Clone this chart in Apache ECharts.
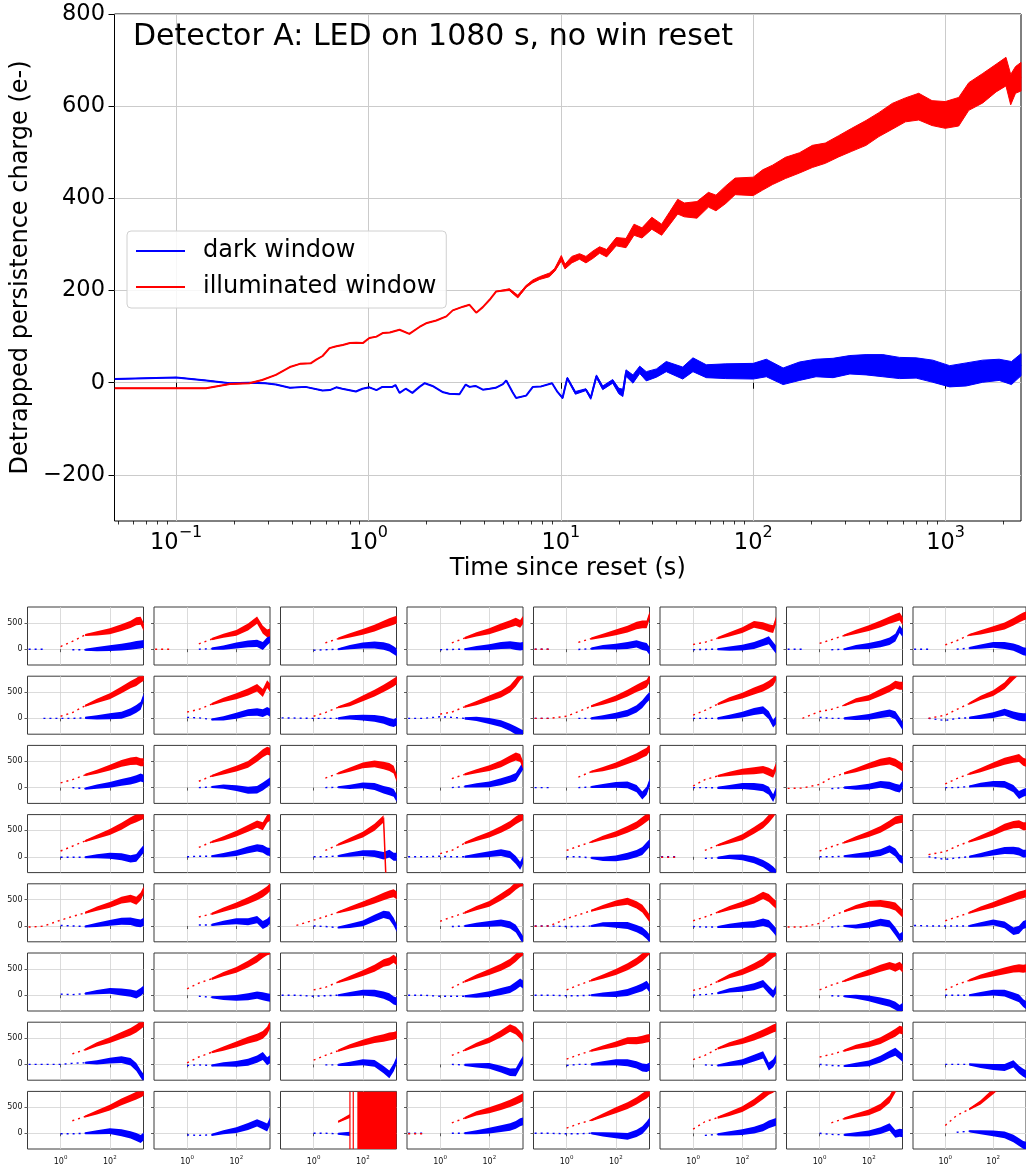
<!DOCTYPE html>
<html>
<head>
<meta charset="utf-8">
<script src="https://cdn.jsdelivr.net/npm/echarts@6/dist/echarts.min.js"></script>
<style>
  html, body { margin: 0; padding: 0; background: #fff; }
  #chart { width: 1026px; height: 1166px; }
</style>
</head>
<body>
<div id="chart"></div>
<script>
// ---------- Main panel: detrapped charge vs. time since reset ----------
const mainRedTime = [0.048,0.1,0.143,0.19,0.24,0.28,0.33,0.39,0.44,0.5,0.535,0.577,0.627,0.68,0.735,0.8,0.863,0.934,1.01,1.1,1.19,1.29,1.45,1.63,1.84,1.99,2.25,2.54,2.74,3.1,3.35,3.63,3.93,4.26,4.61,
  5.4,5.97,6.6,7.15,7.75,8.72,9.3,10.05,10.5,11.4,12.5,13.5,14.7,15.9,17.3,19.4,21.8,24,26.4,29.7,33.4,36.8,40.5,43.8,51,58.5,64,72,80.5,100,112,126,147,174,203,237,278,325,386,450,528,618,725,850,996,1170,1320,1560,1830,2060,2180,2310,2466];
const mainRedCharge = [-12,-12,-12,-3,-1,6,17,34,41,42,50,58,75,79,82,86,87,86,97,100,108,109,115,106,121,129,135,144,157,165,169,152,164,180,198,
  202,187,209,220,227,234,245,270,252,267,274,267,278,288,281,306,303,332,325,346,332,357,382,375,375,397,390,408,426,426,440,451,466,477,491,498,513,527,542,560,578,592,599,585,581,588,621,639,661,675,636,657,664];
// half-width of the read-noise band around the illuminated trace
const mainRedNoise = [0,0,0,0,0,0,0,0,0,0,0,0,0,0,0,0,0,0,0,0,0,0,0,0,0,0,0,0,0,0,0,0,0,0,0,
  2,3,2,3,3,4,3,6,5,7,6,7,8,7,8,9,10,12,11,13,12,14,16,15,18,16,17,19,18,20,22,21,23,22,24,22,23,25,27,26,28,26,29,27,29,31,30,32,30,31,33,29,31];

const mainBlueTime = [0.048,0.1,0.143,0.19,0.24,0.29,0.33,0.39,0.47,0.577,0.63,0.68,0.73,0.86,0.93,1.01,1.1,1.18,1.33,1.38,1.45,1.56,1.69,1.84,1.96,2.15,2.42,2.63,2.97,3.2,3.35,3.6,3.93,4.26,4.58,5.0,5.2,5.6,5.85,6.6,7.15,7.9,9.0,9.6,10.2,10.8,11.9,13.5,14.3,15.3,16.5,18.6,20,21,21.8,23.7,25.7,27.8,31.4,35.3,43,48.6,57,72,100,117,143,174,212,260,318,386,472,576,703,858,1050,1280,1560,1900,2200,2466];
const mainBlueCharge = [8,11.5,5,-1,0,-1,-4,-11,-9,-17,-16,-10,-13,-19,-13,-10,-16,-9,-9,-5,-22,-13,-22,-9,-1,-7,-20,-24,-25,-4,-9,-7,-15,-13,-11,-3,5,-20,-33,-28,-9,-8,-1,-20,-33,10,-22,-15,-33,14,-11,3,-18,-22,21,8,28,14,21,35,21,39,25,25,25,32,14,25,32,32,39,39,37,32,32,25,14,18,25,28,21,39];
const mainBlueNoise = [0,0,0,0,0,0,0,0,0,0,0,0,0,0,0,0,0,0,0,0,0,0,0,0,0,0,0,0,0,0,0,0,0,0,0,0,0,0,0,0,0,0,0,0,2,2,3,2,3,3,4,4,6,8,7,9,8,10,9,11,13,15,14,16,17,19,18,20,19,21,20,22,24,23,22,24,23,25,24,23,25,24];

const mainTicksX = [0.1, 1, 10, 100, 1000];
const mainMinorTicksX = [0.05,0.06,0.07,0.08,0.09,0.2,0.3,0.4,0.5,0.6,0.7,0.8,0.9,2,3,4,5,6,7,8,9,20,30,40,50,60,70,80,90,200,300,400,500,600,700,800,900,2000];
const mainTicksY = [-200, 0, 200, 400, 600, 800];

// ---------- 8x8 grid of per-window traces ----------
// sample times shared by every small panel
const panelTime = [0.05, 0.2, 1, 3, 10, 30, 100, 300, 700, 1200, 1800, 2400];
// half-width of the noise band at each sample time
const panelNoise = [0, 0, 0, 0, 20, 40, 55, 65, 70, 75, 75, 75];
const panelTicksX = [1, 100];
const panelTicksY = [0, 500];

const illum1 = [
  [null,null,50,150,270,300,340,410,470,530,540,420],
  [0,0,null,100,190,255,310,420,550,370,300,320],
  [null,null,null,120,200,260,330,400,470,510,540,560],
  [null,20,null,120,210,280,340,420,480,520,480,560],
  [0,0,null,130,200,255,320,380,450,470,470,650],
  [null,null,90,130,210,280,360,470,440,400,380,560],
  [null,null,110,180,260,330,400,480,550,590,620,530],
  [null,null,80,160,270,320,380,440,520,580,620,640]
];
const dark1 = [
  [0,0,null,-10,-10,0,20,40,60,80,90,100],
  [null,null,null,0,10,30,70,100,110,60,150,200],
  [null,null,-20,-10,0,40,70,80,60,30,-20,-60],
  [null,null,-10,-5,0,20,40,70,80,60,50,60],
  [0,0,null,-5,10,40,50,70,100,60,40,-40],
  [null,null,-10,-5,0,10,30,70,130,170,60,-10],
  [0,0,null,-10,0,40,60,100,150,220,380,300],
  [0,0,null,0,20,50,80,70,40,0,-40,-50]
];
const illum2 = [
  [null,null,40,110,240,330,420,540,640,690,750,790],
  [null,null,120,170,270,350,420,500,580,480,650,580],
  [null,null,40,110,210,270,380,480,570,630,680,720],
  [null,null,80,120,220,290,380,460,560,680,800,850],
  [0,0,40,130,230,300,380,480,570,620,660,760],
  [null,null,60,150,270,360,430,520,580,640,700,800],
  [null,0,130,170,250,340,390,490,570,640,620,620],
  [null,0,60,170,280,390,480,620,800,900,1000,1000]
];
const dark2 = [
  [null,0,0,0,10,20,40,60,120,180,240,400],
  [null,null,20,10,-20,0,50,110,120,100,140,110],
  [10,5,0,0,0,20,15,0,-30,-70,-90,-60],
  [0,0,30,20,0,-10,-50,-100,-170,-230,-270,-300],
  [0,0,null,0,0,20,50,100,180,270,370,430],
  [null,null,0,0,0,30,70,130,160,60,-100,-30],
  [null,null,20,0,0,10,30,70,100,60,-60,-150],
  [null,0,-40,0,10,30,60,120,60,30,20,20]
];
const illum3 = [
  [null,null,90,150,240,300,380,460,500,510,480,480],
  [null,null,null,120,220,290,360,440,560,650,700,680],
  [null,null,null,180,270,340,420,450,420,390,340,180],
  [null,null,null,170,250,310,370,450,540,590,560,420],
  [null,null,null,200,300,350,420,510,580,640,680,760],
  [null,null,30,150,220,260,300,320,340,300,260,400],
  [-15,-10,60,190,270,330,410,480,510,470,420,380],
  [0,null,70,170,260,330,420,500,540,560,490,470]
];
const dark3 = [
  [null,null,null,0,-20,20,50,100,130,160,190,170],
  [null,null,null,0,10,20,-10,-50,-40,20,80,120],
  [null,null,null,0,5,15,40,20,-40,-70,-100,-200],
  [null,null,null,0,20,40,60,110,160,200,330,420],
  [0,0,null,0,10,30,50,50,-20,-150,-60,100],
  [null,null,0,0,-5,10,30,20,0,-60,-200,-60],
  [null,null,null,-20,0,0,20,60,40,0,-20,60],
  [0,null,0,0,20,50,70,60,-20,-140,-100,-80]
];
const illum4 = [
  [null,null,110,200,300,380,470,580,680,730,770,790],
  [null,null,null,180,280,350,440,540,620,580,720,760],
  [null,null,null,120,230,320,420,560,720,-2000,null,null],
  [null,null,60,120,260,340,420,520,610,690,740,770],
  [null,null,120,200,280,360,430,520,600,680,740,780],
  [-10,-10,null,120,220,290,370,500,610,720,820,900],
  [null,null,110,190,270,350,430,520,620,690,710,720],
  [null,40,100,200,290,370,460,560,610,620,580,580]
];
const dark4 = [
  [null,null,-10,-10,-10,10,20,0,-40,-20,80,150],
  [null,null,0,10,10,30,70,130,170,150,100,90],
  [null,null,0,0,15,40,70,60,20,60,0,0],
  [0,0,10,0,0,20,50,80,40,-60,-170,-50],
  [null,null,0,0,-20,-40,-30,10,60,110,200,260],
  [0,0,null,-30,-20,0,-10,-60,-130,-200,-260,-320],
  [null,null,0,0,10,20,40,80,150,80,-30,-60],
  [null,0,-50,-20,0,30,80,120,120,100,60,60]
];
const illum5 = [
  [-20,-5,110,180,250,330,400,490,520,480,560,680],
  [null,null,null,170,230,310,390,480,560,620,680,740],
  [null,10,110,180,260,330,410,490,560,600,620,580],
  [null,null,90,170,250,340,420,550,660,760,820,830],
  [-5,0,140,210,290,360,430,470,400,330,220,140],
  [null,null,100,170,260,340,410,490,580,530,450,400],
  [-20,-20,50,180,280,360,420,430,400,370,290,230],
  [-20,null,100,170,250,330,400,480,540,580,600,620]
];
const dark5 = [
  [null,null,10,0,-10,20,60,90,90,60,50,80],
  [null,null,null,20,20,60,90,80,120,20,60,120],
  [null,null,0,-10,-30,0,50,150,220,200,80,-40],
  [null,null,null,-10,0,20,40,60,20,-50,-180,-270],
  [0,0,-10,-10,0,30,20,10,-50,-100,-170,-240],
  [null,null,-10,-20,-20,0,20,30,70,40,-50,-120],
  [null,null,null,-20,0,-10,20,70,40,-100,-220,-180],
  [10,0,0,0,0,30,70,20,-100,-70,20,40]
];
const illum6 = [
  [null,null,null,null,null,null,null,null,null,null,null,null],
  [null,null,120,230,310,400,480,590,690,780,830,850],
  [null,null,100,150,250,330,420,510,610,640,690,640],
  [null,0,null,140,260,350,440,530,620,710,790,830],
  [null,null,100,190,280,350,440,540,640,720,800,850],
  [null,null,90,150,260,360,440,540,630,720,790,820],
  [-25,null,100,190,270,350,430,510,560,520,560,500],
  [null,null,100,200,280,350,410,460,500,510,500,510]
];
const dark6 = [
  [null,null,20,10,30,60,80,60,40,10,60,110],
  [null,null,null,-20,-40,-50,-50,-30,0,-20,-40,-50],
  [0,0,-20,-10,0,20,50,40,0,-40,-100,-120],
  [0,0,-20,-20,-20,-10,20,70,110,180,240,200],
  [0,0,-10,-10,0,10,20,50,110,150,200,120],
  [null,null,0,10,40,90,120,160,220,100,20,120],
  [null,null,null,-10,-20,-30,-60,-110,-150,-200,-260,-220],
  [null,null,0,0,0,20,50,40,-20,-60,-150,-190]
];
const illum7 = [
  [null,null,null,200,280,380,460,550,620,680,740,790],
  [null,null,30,140,230,300,380,460,510,560,640,760],
  [null,null,80,170,260,340,410,470,500,530,540,560],
  [null,null,null,170,270,370,460,580,690,640,560,480],
  [null,null,100,180,260,320,380,450,450,470,490,500],
  [null,null,90,170,300,380,440,520,590,640,680,700],
  [null,null,140,190,260,330,380,450,540,600,660,640],
  [null,null,null,null,null,null,null,null,null,null,null,null]
];
const dark7 = [
  [0,0,0,20,30,40,70,90,50,-50,-180,-260],
  [null,null,-20,-10,-20,0,10,40,100,160,60,100],
  [null,null,null,-10,-10,10,40,20,-100,-190,-60,80],
  [null,null,null,0,-10,-20,-30,-90,-150,-150,0,90],
  [null,null,-20,0,0,20,40,30,-10,-60,-70,-40],
  [0,null,null,-10,-20,10,40,120,180,-40,20,120],
  [null,null,0,-20,-30,-10,20,100,190,240,170,120],
  [null,null,0,0,0,-30,-50,-60,10,-100,-160,-190]
];
const illum8 = [
  [null,null,null,240,320,400,490,600,670,720,760,790],
  [null,null,null,null,null,null,null,null,null,null,null,null],
  [null,null,null,null,220,330,null,null,null,null,null,null],
  [-10,-10,null,200,290,380,440,510,570,620,660,690],
  [null,null,100,180,250,340,440,530,620,690,740,790],
  [null,null,80,220,300,370,460,590,720,810,850,900],
  [-15,null,null,200,280,340,400,500,650,850,950,1000],
  [null,null,150,340,460,590,800,1000,1100,1100,1100,1100]
];
const dark8 = [
  [null,null,-10,-10,0,20,40,10,-30,-70,-110,-60],
  [null,null,-30,-40,-30,20,60,130,200,150,110,240],
  [null,null,0,0,-10,-10,null,null,null,null,null,null],
  [0,0,null,0,0,20,50,90,120,160,210,230],
  [0,0,-10,-10,0,-20,-40,-60,0,60,150,230],
  [null,null,null,-40,-20,0,20,60,110,170,200,220],
  [0,null,0,-20,-30,-20,0,50,120,-10,10,0],
  [null,null,null,20,40,20,0,-30,-100,-170,-220,-240]
];
// one illuminated window saturates: rail-to-rail swings after this time
const saturatedRow = 7, saturatedCol = 2;
const saturatedSpikes = [30, 41];
const saturatedFrom = 60;

// ---------- styling ----------
const FONT = 'DejaVu Sans';
const RED = '#ff0000', BLUE = '#0000ff';
const GRID_GRAY = '#cbcbcb';
const MAIN_X = [0.0478, 2466];
const PANEL_X = [0.045, 2350];
const Y_RANGE = [-300, 800];

const illumRows = [illum1, illum2, illum3, illum4, illum5, illum6, illum7, illum8];
const darkRows = [dark1, dark2, dark3, dark4, dark5, dark6, dark7, dark8];

const minus = v => (v < 0 ? '\u2212' + (-v) : String(v));
const powLabel = v => {
  const e = Math.round(Math.log10(v));
  return '{b|10}{s|' + minus(e) + '}';
};

// filled band between value-noise and value+noise, drawn through the axes
function bandRenderer(times, values, noise, color) {
  return function (params, api) {
    const up = [], dn = [];
    for (let i = 0; i < times.length; i++) {
      up.push(api.coord([times[i], values[i] + noise[i]]));
      dn.push(api.coord([times[i], values[i] - noise[i]]));
    }
    return {
      type: 'polygon',
      shape: { points: up.concat(dn.reverse()) },
      style: { fill: color, stroke: color, lineWidth: 1 }
    };
  };
}

// runs of consecutive non-null samples inside [from, to]
function runs(vals, from, to) {
  const out = [];
  let cur = [];
  for (let i = from; i <= to; i++) {
    if (vals[i] == null) { if (cur.length > 1) out.push(cur); cur = []; }
    else cur.push(i);
  }
  if (cur.length > 1) out.push(cur);
  return out;
}

const SPLIT = 4; // samples up to 10 s are sparse
function panelRenderer(red, blue, saturated) {
  return function (params, api) {
    const children = [];
    [[blue, BLUE], [red, RED]].forEach(([vals, color]) => {
      runs(vals, 0, SPLIT).forEach(seg => {
        children.push({
          type: 'polyline',
          shape: { points: seg.map(i => api.coord([panelTime[i], vals[i]])) },
          style: { stroke: color, lineWidth: 1.4, lineDash: [2, 4], fill: null }
        });
      });
      runs(vals, SPLIT, panelTime.length - 1).forEach(seg => {
        const up = seg.map(i => api.coord([panelTime[i], vals[i] + panelNoise[i]]));
        const dn = seg.map(i => api.coord([panelTime[i], vals[i] - panelNoise[i]])).reverse();
        children.push({
          type: 'polygon',
          shape: { points: up.concat(dn) },
          style: { fill: color }
        });
        children.push({
          type: 'polyline',
          shape: { points: seg.map(i => api.coord([panelTime[i], vals[i]])) },
          style: { stroke: color, lineWidth: 1.5, fill: null }
        });
      });
    });
    if (saturated) {
      saturatedSpikes.forEach(t => {
        const a = api.coord([t, Y_RANGE[1]]), b = api.coord([t, Y_RANGE[0]]);
        children.push({ type: 'line', shape: { x1: a[0], y1: a[1], x2: b[0], y2: b[1] },
                        style: { stroke: RED, lineWidth: 1.2 } });
      });
      const p0 = api.coord([saturatedFrom, Y_RANGE[1]]);
      const p1 = api.coord([PANEL_X[1], Y_RANGE[0]]);
      children.push({ type: 'rect', shape: { x: p0[0], y: p0[1], width: p1[0] - p0[0], height: p1[1] - p0[1] },
                      style: { fill: RED } });
    }
    return { type: 'group', children };
  };
}

const grids = [{ left: 114.5, top: 14, width: 906.5, height: 507, show: true, borderColor: '#000', borderWidth: 1 }];
const xAxes = [
  {
    type: 'log', logBase: 10, gridIndex: 0, min: MAIN_X[0], max: MAIN_X[1],
    name: 'Time since reset (s)', nameLocation: 'middle', nameGap: 36,
    nameTextStyle: { fontFamily: FONT, fontSize: 24, color: '#000' },
    axisLine: { show: false },
    axisTick: { show: true, customValues: mainTicksX, length: 6, lineStyle: { color: '#000', width: 1 } },
    axisLabel: {
      customValues: mainTicksX, formatter: powLabel, margin: 4,
      rich: {
        b: { fontFamily: FONT, fontSize: 22.5, color: '#000', lineHeight: 30, verticalAlign: 'bottom' },
        s: { fontFamily: FONT, fontSize: 16, color: '#000', lineHeight: 18, verticalAlign: 'top' }
      }
    },
    splitLine: { show: true, lineStyle: { color: GRID_GRAY, width: 1 } }
  },
  {
    type: 'log', logBase: 10, gridIndex: 0, min: MAIN_X[0], max: MAIN_X[1], position: 'bottom',
    axisLine: { show: false }, axisLabel: { show: false }, splitLine: { show: false },
    axisTick: { show: true, customValues: mainMinorTicksX, length: 3.5, lineStyle: { color: '#000', width: 0.8 } }
  }
];
const yAxes = [{
  type: 'value', gridIndex: 0, min: Y_RANGE[0], max: Y_RANGE[1],
  name: 'Detrapped persistence charge (e-)', nameLocation: 'middle', nameGap: 79, nameRotate: 90,
  nameTextStyle: { fontFamily: FONT, fontSize: 24, color: '#000' },
  axisLine: { show: false },
  axisTick: { show: true, customValues: mainTicksY, length: 6, lineStyle: { color: '#000', width: 1 } },
  axisLabel: { customValues: mainTicksY, formatter: minus, margin: 9.5, fontFamily: FONT, fontSize: 22.5, color: '#000' },
  splitLine: { show: true, lineStyle: { color: GRID_GRAY, width: 1 } }
}];

const series = [
  { type: 'custom', name: 'dark noise', xAxisIndex: 0, yAxisIndex: 0, data: [[1, 0]], clip: true, silent: true,
    renderItem: bandRenderer(mainBlueTime, mainBlueCharge, mainBlueNoise, BLUE) },
  { type: 'line', name: 'dark window', xAxisIndex: 0, yAxisIndex: 0, showSymbol: false, silent: true,
    data: mainBlueTime.map((t, i) => [t, mainBlueCharge[i]]),
    lineStyle: { color: BLUE, width: 2 }, itemStyle: { color: BLUE } },
  { type: 'custom', name: 'illuminated noise', xAxisIndex: 0, yAxisIndex: 0, data: [[1, 0]], clip: true, silent: true,
    renderItem: bandRenderer(mainRedTime, mainRedCharge, mainRedNoise, RED) },
  { type: 'line', name: 'illuminated window', xAxisIndex: 0, yAxisIndex: 0, showSymbol: false, silent: true,
    data: mainRedTime.map((t, i) => [t, mainRedCharge[i]]),
    lineStyle: { color: RED, width: 2 }, itemStyle: { color: RED } }
];

for (let r = 0; r < 8; r++) {
  for (let c = 0; c < 8; c++) {
    const p = r * 8 + c;
    grids.push({ left: 27.5 + 126.5 * c, top: 607 + 69.2 * r, width: 116, height: 58,
                 show: true, borderColor: '#3a3a3a', borderWidth: 1 });
    xAxes.push({
      type: 'log', logBase: 10, gridIndex: p + 1, min: PANEL_X[0], max: PANEL_X[1],
      axisLine: { show: false },
      axisTick: { show: true, customValues: panelTicksX, length: 3, lineStyle: { color: '#333', width: 0.8 } },
      axisLabel: {
        show: r === 7, customValues: panelTicksX, formatter: powLabel, margin: 6,
        rich: {
          b: { fontFamily: FONT, fontSize: 8, color: '#111', lineHeight: 11, verticalAlign: 'bottom' },
          s: { fontFamily: FONT, fontSize: 5.5, color: '#111', lineHeight: 7, verticalAlign: 'top' }
        }
      },
      splitLine: { show: true, lineStyle: { color: '#d2d2d2', width: 0.8 } }
    });
    yAxes.push({
      type: 'value', gridIndex: p + 1, min: Y_RANGE[0], max: Y_RANGE[1],
      axisLine: { show: false },
      axisTick: { show: true, customValues: panelTicksY, length: 3, lineStyle: { color: '#333', width: 0.8 } },
      axisLabel: { show: c === 0, customValues: panelTicksY, margin: 5, fontFamily: FONT, fontSize: 8, color: '#111' },
      splitLine: { show: true, lineStyle: { color: '#d2d2d2', width: 0.8 } }
    });
    series.push({
      type: 'custom', name: 'window ' + (p + 1), xAxisIndex: p + 2, yAxisIndex: p + 1,
      data: [[1, 0]], clip: true, silent: true,
      renderItem: panelRenderer(illumRows[r][c], darkRows[r][c], r === saturatedRow && c === saturatedCol)
    });
  }
}

const chart = echarts.init(document.getElementById('chart'), null, { renderer: 'canvas' });
chart.setOption({
  animation: false,
  backgroundColor: '#fff',
  title: {
    text: 'Detector A: LED on 1080 s, no win reset', left: 133, top: 22, padding: 0,
    textStyle: { fontFamily: FONT, fontSize: 30, fontWeight: 'normal', color: '#000' }
  },
  legend: {
    data: ['dark window', 'illuminated window'], orient: 'vertical', left: 127, top: 231,
    padding: [8, 10, 9, 9], itemGap: 12, itemWidth: 49, itemHeight: 2, icon: 'rect',
    backgroundColor: 'rgba(255,255,255,0.85)', borderColor: '#d0d0d0', borderWidth: 1, borderRadius: 4,
    selectedMode: false,
    textStyle: { fontFamily: FONT, fontSize: 24, color: '#000', padding: [0, 0, 0, 13] }
  },
  grid: grids,
  xAxis: xAxes,
  yAxis: yAxes,
  series: series
});
</script>
</body>
</html>
